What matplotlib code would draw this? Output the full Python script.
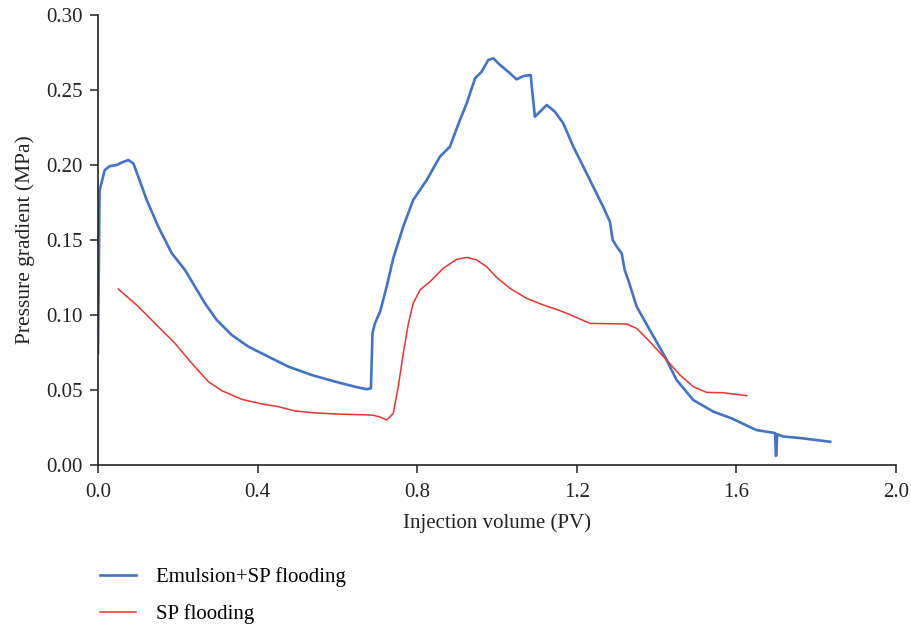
import matplotlib
matplotlib.use("Agg")
import matplotlib.pyplot as plt

# Emulsion+SP flooding (blue)
emu_x = [0.0, 0.004, 0.017, 0.030, 0.047, 0.059, 0.076, 0.0885, 0.101, 0.122, 0.151, 0.185, 0.218,
         0.243, 0.268, 0.2975, 0.335, 0.377, 0.427, 0.477, 0.5355, 0.594, 0.644, 0.673, 0.684,
         0.688, 0.694, 0.707, 0.7235, 0.740, 0.765, 0.790, 0.824, 0.857, 0.882, 0.907, 0.924,
         0.945, 0.9616, 0.978, 0.991, 1.0075, 1.028, 1.049, 1.066, 1.0845, 1.088, 1.095, 1.108,
         1.1245, 1.145, 1.166, 1.1914, 1.2163, 1.241, 1.266, 1.283, 1.290, 1.300, 1.3125, 1.320,
         1.329, 1.350, 1.383, 1.421, 1.450, 1.492, 1.542, 1.588, 1.65, 1.697, 1.699, 1.700, 1.702,
         1.717, 1.759, 1.835]
emu_y = [0.0745, 0.183, 0.1967, 0.1993, 0.200, 0.2016, 0.2033, 0.2011, 0.1922, 0.1767, 0.1589, 0.1411,
         0.130, 0.1189, 0.1078, 0.0967, 0.0867, 0.0789, 0.0722, 0.0656, 0.060, 0.0556, 0.0522,
         0.0505, 0.0511, 0.0878, 0.0944, 0.1022, 0.1189, 0.1378, 0.1589, 0.1767, 0.190, 0.2056,
         0.2122, 0.230, 0.2411, 0.2578, 0.2622, 0.270, 0.2711, 0.2667, 0.2622, 0.2571, 0.2593, 0.260,
         0.250, 0.2322, 0.2356, 0.240, 0.2356, 0.2278, 0.2122, 0.1989, 0.1856, 0.1722, 0.1622, 0.150,
         0.1456, 0.1411, 0.130, 0.1233, 0.1056, 0.090, 0.0722, 0.0567, 0.0433, 0.0356, 0.0311,
         0.0233, 0.0213, 0.006, 0.0067, 0.0205, 0.019, 0.018, 0.0155]

# SP flooding (red)
sp_x = [0.051, 0.101, 0.151, 0.193, 0.235, 0.2765, 0.310, 0.360, 0.410, 0.452, 0.494, 0.5355, 0.594,
        0.686, 0.705, 0.7235, 0.740, 0.7526, 0.765, 0.778, 0.790, 0.807, 0.832, 0.865, 0.899, 0.924,
        0.949, 0.974, 0.999, 1.0326, 1.074, 1.116, 1.158, 1.175, 1.233, 1.325, 1.350, 1.383, 1.421,
        1.4586, 1.492, 1.5255, 1.567, 1.626]
sp_y = [0.1173, 0.1056, 0.0922, 0.0811, 0.0678, 0.0556, 0.0496, 0.0438, 0.0407, 0.0389, 0.036, 0.0349,
        0.034, 0.0333, 0.0322, 0.030, 0.0344, 0.0522, 0.0744, 0.0944, 0.1078, 0.1167, 0.1222, 0.1311,
        0.1371, 0.1384, 0.1367, 0.1322, 0.1251, 0.1178, 0.1111, 0.1067, 0.1029, 0.1011, 0.0944,
        0.094, 0.0911, 0.0822, 0.0711, 0.060, 0.0522, 0.0484, 0.0482, 0.0462]

x_ticks = [0.0, 0.4, 0.8, 1.2, 1.6, 2.0]
y_ticks = [0.00, 0.05, 0.10, 0.15, 0.20, 0.25, 0.30]

plt.rcParams['font.family'] = ['Liberation Serif', 'DejaVu Serif']

fig = plt.figure(figsize=(9.12, 6.29), dpi=100)
ax = fig.add_axes([98/912, 1-465/629, (896-98)/912, (465-15)/629])

l1, = ax.plot(emu_x, emu_y, color='#4472C4', lw=1.9, label='Emulsion+SP flooding')
l2, = ax.plot(sp_x, sp_y, color='#E8352B', lw=1.1, label='SP flooding')

ax.set_xlim(0, 2.0)
ax.set_ylim(0, 0.30)
ax.set_xticks(x_ticks)
ax.set_xticklabels([f"{v:.1f}" for v in x_ticks])
ax.set_yticks(y_ticks)
ax.set_yticklabels([f"{v:.2f}" for v in y_ticks])
for s in ['top', 'right']:
    ax.spines[s].set_visible(False)
for s in ['left', 'bottom']:
    ax.spines[s].set_linewidth(1.2)
    ax.spines[s].set_color('#222222')
ax.tick_params(direction='out', length=6, width=1.1, pad=5, labelsize=15, color='#222222',
               labelcolor='#222222')
ax.tick_params(axis='x', pad=7)
ax.set_xlabel('Injection volume (PV)', fontsize=15, color='#222222', labelpad=8)
ax.set_ylabel('Pressure gradient (MPa)', fontsize=15.5, color='#222222', labelpad=8)

fig.legend(handles=[l1, l2], loc='upper left', bbox_to_anchor=(92/912, 1-559/629), frameon=False,
           borderaxespad=0, fontsize=15, handlelength=1.7, labelspacing=0.8, handletextpad=0.95)

fig.savefig('out.png', dpi=100)
